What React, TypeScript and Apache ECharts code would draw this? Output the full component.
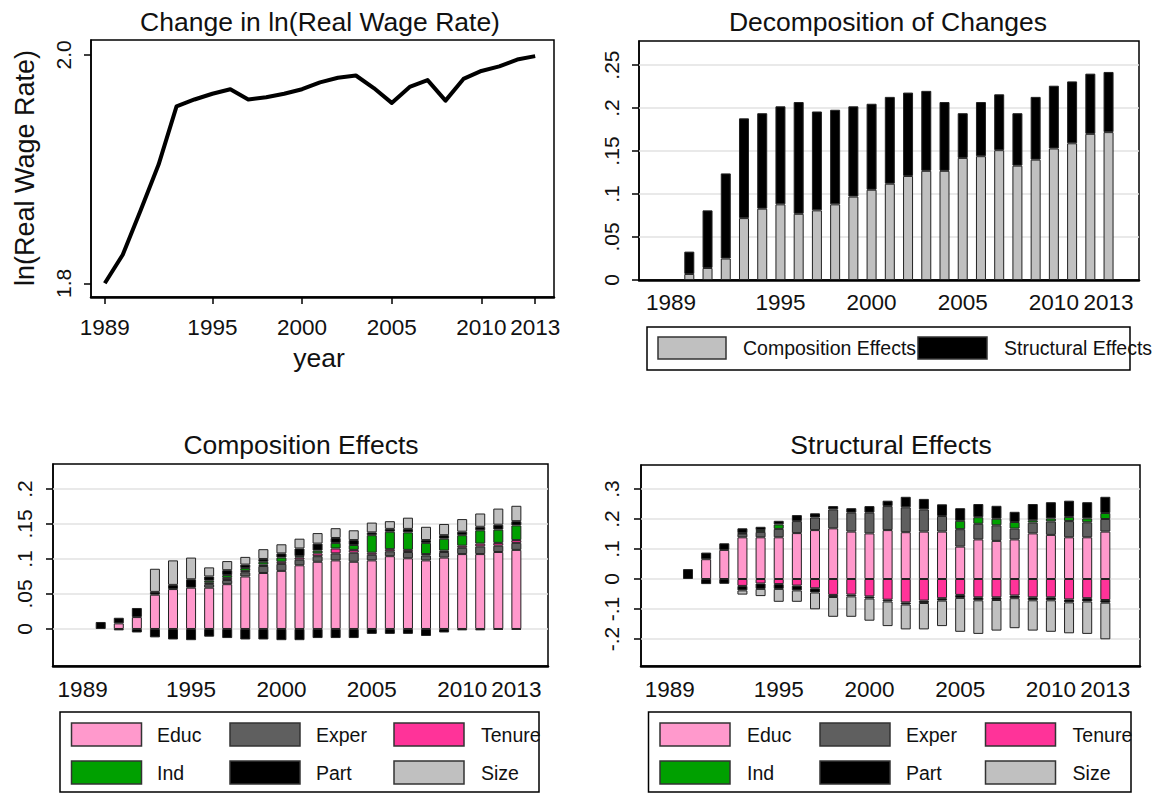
import React, { useEffect, useRef } from "react";
import * as echarts from "echarts";

// ---------- DATA ----------
const lineYears = [1989, 1990, 1991, 1992, 1993, 1994, 1995, 1996, 1997, 1998, 1999, 2000, 2001, 2002, 2003, 2004, 2005, 2006, 2007, 2008, 2009, 2010, 2011, 2012, 2013];
const lnWage = [1.800, 1.825, 1.864, 1.904, 1.955, 1.961, 1.966, 1.970, 1.961, 1.963, 1.966, 1.970, 1.976, 1.980, 1.982, 1.971, 1.958, 1.972, 1.978, 1.960, 1.979, 1.986, 1.990, 1.996, 1.999];

const barYears = [1990, 1991, 1992, 1993, 1994, 1995, 1996, 1997, 1998, 1999, 2000, 2001, 2002, 2003, 2004, 2005, 2006, 2007, 2008, 2009, 2010, 2011, 2012, 2013];

// Decomposition of changes
const decompComposition = [0.007, 0.014, 0.025, 0.072, 0.083, 0.088, 0.077, 0.081, 0.088, 0.097, 0.105, 0.112, 0.121, 0.127, 0.127, 0.142, 0.144, 0.151, 0.133, 0.140, 0.153, 0.159, 0.170, 0.172];
const decompStructural = [0.026, 0.067, 0.099, 0.116, 0.111, 0.114, 0.130, 0.115, 0.110, 0.105, 0.100, 0.101, 0.097, 0.093, 0.080, 0.052, 0.063, 0.065, 0.061, 0.073, 0.073, 0.072, 0.070, 0.070];

// Composition effects by component
const compEduc = [0, 0.008, 0.017, 0.049, 0.057, 0.059, 0.059, 0.064, 0.075, 0.080, 0.083, 0.091, 0.096, 0.098, 0.096, 0.098, 0.104, 0.101, 0.098, 0.102, 0.107, 0.107, 0.110, 0.113];
const compExper = [0, 0, 0, 0, 0, 0, 0.005, 0.006, 0.006, 0.010, 0.010, 0.008, 0.008, 0.010, 0.013, 0.008, 0.007, 0.009, 0.007, 0.008, 0.009, 0.011, 0.009, 0.010];
const compTenure = [0, 0, 0, 0, 0, 0, 0.002, 0.003, 0.002, 0.002, 0.003, 0.003, 0.004, 0.007, 0.004, 0.003, 0.003, 0.003, 0.002, 0.002, 0.003, 0.004, 0.004, 0.004];
const compInd = [0, 0, 0, 0, 0, 0, 0.003, 0.004, 0.004, 0.004, 0.006, 0.002, 0.004, 0.008, 0.007, 0.025, 0.025, 0.025, 0.016, 0.017, 0.015, 0.019, 0.019, 0.021];
const compPart = [0, -0.002, -0.005, -0.012, -0.015, -0.016, -0.011, -0.013, -0.015, -0.015, -0.016, -0.016, -0.013, -0.013, -0.013, -0.007, -0.007, -0.007, -0.010, -0.005, -0.002, -0.002, -0.001, -0.001];
const compOther = [0.010, 0.008, 0.013, 0.004, 0.006, 0.012, 0.006, 0.007, 0.005, 0.004, 0.006, 0.011, 0.010, 0.007, 0.007, 0.004, 0.004, 0.005, 0.004, 0.005, 0.005, 0.005, 0.007, 0.006];
const compSize = [0, 0, 0, 0.033, 0.035, 0.031, 0.013, 0.013, 0.011, 0.014, 0.013, 0.014, 0.015, 0.014, 0.014, 0.014, 0.011, 0.016, 0.019, 0.016, 0.018, 0.019, 0.023, 0.022];

// Structural effects by component
const strEduc = [0, 0.066, 0.097, 0.139, 0.139, 0.139, 0.153, 0.163, 0.169, 0.158, 0.152, 0.163, 0.156, 0.158, 0.158, 0.108, 0.132, 0.127, 0.132, 0.152, 0.147, 0.139, 0.139, 0.158];
const strExper = [0, 0, 0, 0.012, 0.018, 0.028, 0.040, 0.042, 0.063, 0.063, 0.069, 0.080, 0.083, 0.074, 0.052, 0.058, 0.052, 0.052, 0.036, 0.036, 0.045, 0.054, 0.050, 0.042];
const strTenure = [0, 0, 0, -0.023, -0.015, -0.017, -0.022, -0.031, -0.053, -0.052, -0.058, -0.069, -0.078, -0.072, -0.064, -0.053, -0.061, -0.061, -0.055, -0.061, -0.061, -0.068, -0.064, -0.070];
const strInd = [0, 0, 0, 0.002, 0.006, 0.015, 0, 0, 0, 0, 0, 0, 0, 0, 0, 0.028, 0.022, 0.022, 0.022, 0.008, 0.010, 0.014, 0.013, 0.020];
const strPart = [0, -0.017, -0.016, -0.015, -0.018, -0.016, -0.016, -0.014, -0.007, -0.006, -0.007, -0.006, -0.007, -0.008, -0.008, -0.010, -0.010, -0.009, -0.009, -0.010, -0.010, -0.010, -0.011, -0.009];
const strOther = [0.033, 0.022, 0.022, 0.016, 0.011, 0.012, 0.020, 0.014, 0.011, 0.015, 0.022, 0.018, 0.035, 0.035, 0.039, 0.042, 0.044, 0.043, 0.034, 0.054, 0.054, 0.054, 0.054, 0.054];
const strSize = [0, 0, 0, -0.014, -0.024, -0.043, -0.038, -0.056, -0.066, -0.068, -0.074, -0.082, -0.083, -0.088, -0.085, -0.113, -0.112, -0.102, -0.100, -0.101, -0.105, -0.103, -0.108, -0.122];

// Tick labels
const yearTicks = [1989, 1995, 2000, 2005, 2010, 2013];
const lnTicks = [1.8, 2.0];
const decompTicks = [0, 0.05, 0.1, 0.15, 0.2, 0.25];
const compTicks = [0, 0.05, 0.1, 0.15, 0.2];
const strTicks = [-0.2, -0.1, 0, 0.1, 0.2, 0.3];

const legendNames = ["Educ", "Exper", "Tenure", "Ind", "Part", "Size"];

// ---------- STYLE ----------
const FONT = "Liberation Sans, Arial, sans-serif";
const TXT = "#111";
const COL: Record<string, string> = {
  Educ: "#ff99cc",
  Exper: "#5f5f5f",
  Tenure: "#ff3399",
  Ind: "#00a000",
  Part: "#000000",
  Other: "#000000",
  Size: "#c0c0c0",
};
const BORDER = "#222";

const stataFmt = (v: number) => {
  if (Math.abs(v) < 1e-9) return "0";
  return String(Math.round(v * 1000) / 1000).replace("0.", ".");
};

function xAxis(gridIndex: number, min: number, max: number, margin: number, ticks: boolean) {
  return {
    type: "value",
    gridIndex,
    min,
    max,
    axisLine: { show: true, onZero: false, lineStyle: { color: "#000", width: 2.5 } },
    axisTick: { show: ticks, length: 7, customValues: yearTicks, lineStyle: { color: "#000", width: 1.5 } },
    axisLabel: {
      customValues: yearTicks,
      margin,
      fontSize: 22.5,
      fontFamily: FONT,
      color: TXT,
      formatter: (v: number) => String(Math.round(v)),
    },
    splitLine: { show: false },
  };
}

function yAxis(gridIndex: number, min: number, max: number, ticks: number[], margin: number, fmt: (v: number) => string) {
  return {
    type: "value",
    gridIndex,
    min,
    max,
    axisLine: { show: true, onZero: false, lineStyle: { color: "#000", width: 1.5 } },
    axisTick: { show: true, length: 7, customValues: ticks, lineStyle: { color: "#000", width: 1.5 } },
    axisLabel: {
      customValues: ticks,
      rotate: 90,
      margin,
      fontSize: 21,
      fontFamily: FONT,
      color: TXT,
      formatter: fmt,
    },
    splitLine: { show: false },
  };
}

function gridLines(xi: number, vals: number[]) {
  return {
    type: "line",
    xAxisIndex: xi,
    yAxisIndex: xi,
    data: [],
    z: 1,
    silent: true,
    markLine: {
      z: 1,
      silent: true,
      symbol: "none",
      label: { show: false },
      lineStyle: { color: "#e2e2e2", width: 1.5, type: "solid" },
      data: vals.map((v) => ({ yAxis: v })),
    },
  };
}

// data stored as [value, year] so that the value dimension is the one stacked
function barSeries(name: string, vals: number[], color: string, axis: number, stack: string) {
  return {
    type: "bar",
    name,
    xAxisIndex: axis,
    yAxisIndex: axis,
    stack,
    stackStrategy: "samesign",
    barWidth: 10,
    z: 3,
    encode: { x: 1, y: 0 },
    itemStyle: { color, borderColor: BORDER, borderWidth: 1 },
    data: barYears.map((y, i) => [vals[i] === 0 ? null : vals[i], y]),
  };
}

function legendBlock(x0: number, y0: number, w: number, swX: number[], lbX: number[]) {
  const els: any[] = [
    { type: "rect", shape: { x: x0, y: y0, width: w, height: 80 }, style: { fill: "#fff", stroke: "#000", lineWidth: 1.5 } },
  ];
  const rows = [y0 + 11, y0 + 49];
  legendNames.forEach((n, i) => {
    const r = Math.floor(i / 3);
    const c = i % 3;
    els.push({
      type: "text",
      x: lbX[c],
      y: rows[r] + 11.5,
      style: { text: n, font: `19.5px ${FONT}`, fill: TXT, textAlign: "left", textVerticalAlign: "middle" },
    });
  });
  legendNames.forEach((n, i) => {
    const r = Math.floor(i / 3);
    const c = i % 3;
    els.push({
      type: "rect",
      shape: { x: swX[c], y: rows[r], width: 70, height: 23 },
      style: { fill: COL[n], stroke: "#333", lineWidth: 1.5 },
    });
  });
  return els;
}

function title(text: string, x: number, y: number, size = 26.5, rotation = 0) {
  return {
    type: "text",
    x,
    y,
    rotation,
    style: { text, font: `${size}px ${FONT}`, fill: TXT, textAlign: "center", textVerticalAlign: "middle" },
  };
}

export default function App() {
  const ref = useRef<HTMLDivElement>(null);

  useEffect(() => {
    if (!ref.current) return;
    const chart = echarts.init(ref.current, null, { renderer: "svg" });

    const compOrder: [string, number[]][] = [
      ["Educ", compEduc], ["Exper", compExper], ["Tenure", compTenure], ["Ind", compInd],
      ["Part", compPart], ["Other", compOther], ["Size", compSize],
    ];
    const strOrder: [string, number[]][] = [
      ["Educ", strEduc], ["Exper", strExper], ["Tenure", strTenure], ["Ind", strInd],
      ["Part", strPart], ["Other", strOther], ["Size", strSize],
    ];

    const graphics: any[] = [
      title("Change in ln(Real Wage Rate)", 320, 22),
      title("year", 319, 358),
      title("ln(Real Wage Rate)", 25, 168, 27, Math.PI / 2),
      title("Decomposition of Changes", 888, 22),
      title("Composition Effects", 301, 445),
      title("Structural Effects", 891, 445),
      { type: "rect", shape: { x: 647, y: 327, width: 483, height: 43 }, style: { fill: "#fff", stroke: "#000", lineWidth: 1.5 } },
      { type: "rect", shape: { x: 658, y: 337, width: 68, height: 22 }, style: { fill: "#c0c0c0", stroke: "#333", lineWidth: 1.5 } },
      { type: "text", x: 743, y: 348, style: { text: "Composition Effects", font: `19.5px ${FONT}`, fill: TXT, textVerticalAlign: "middle" } },
      { type: "rect", shape: { x: 918, y: 337, width: 69, height: 22 }, style: { fill: "#000", stroke: "#333", lineWidth: 1.5 } },
      { type: "text", x: 1004, y: 348, style: { text: "Structural Effects", font: `19.5px ${FONT}`, fill: TXT, textVerticalAlign: "middle" } },
      ...legendBlock(60, 712, 479, [71.5, 230, 394], [157, 316, 481]),
      ...legendBlock(648.5, 712, 482.5, [660, 820, 985.5], [747, 906, 1072.6]),
    ];

    chart.setOption({
      animation: false,
      backgroundColor: "#fff",
      textStyle: { fontFamily: FONT },
      grid: [
        { left: 91, top: 40, width: 463, height: 257, show: true, borderColor: "#000", borderWidth: 1.5, containLabel: false },
        { left: 639, top: 41, width: 500, height: 239, show: true, borderColor: "#000", borderWidth: 1.5, containLabel: false },
        { left: 53, top: 464, width: 495, height: 202, show: true, borderColor: "#000", borderWidth: 1.5, containLabel: false },
        { left: 641, top: 465, width: 499, height: 201, show: true, borderColor: "#000", borderWidth: 1.5, containLabel: false },
      ],
      xAxis: [
        xAxis(0, 1988.23, 2014.05, 19, true),
        xAxis(1, 1987.24, 2014.67, 11, false),
        xAxis(2, 1987.36, 2014.75, 12, false),
        xAxis(3, 1987.41, 2014.91, 12, false),
      ],
      yAxis: [
        yAxis(0, 1.788, 2.0131, lnTicks, 17, (v: number) => v.toFixed(1)),
        yAxis(1, 0, 0.278, decompTicks, 17, stataFmt),
        yAxis(2, -0.0529, 0.2357, compTicks, 18, stataFmt),
        yAxis(3, -0.29, 0.38, strTicks, 19, stataFmt),
      ],
      series: [
        {
          type: "line",
          xAxisIndex: 0,
          yAxisIndex: 0,
          showSymbol: false,
          symbol: "none",
          lineStyle: { color: "#000", width: 4, join: "round" },
          data: lineYears.map((y, i) => [y, lnWage[i]]),
        },
        gridLines(1, [0.05, 0.1, 0.15, 0.2, 0.25]),
        barSeries("Composition Effects", decompComposition, "#c0c0c0", 1, "dec"),
        barSeries("Structural Effects", decompStructural, "#000000", 1, "dec"),
        gridLines(2, compTicks),
        ...compOrder.map(([n, v]) => barSeries(n, v, COL[n], 2, "comp")),
        gridLines(3, strTicks),
        ...strOrder.map(([n, v]) => barSeries(n, v, COL[n], 3, "str")),
      ],
      graphic: graphics,
    });

    return () => chart.dispose();
  }, []);

  return <div ref={ref} style={{ position: "fixed", left: 0, top: 0, width: 1157, height: 796, background: "#fff" }} />;
}
